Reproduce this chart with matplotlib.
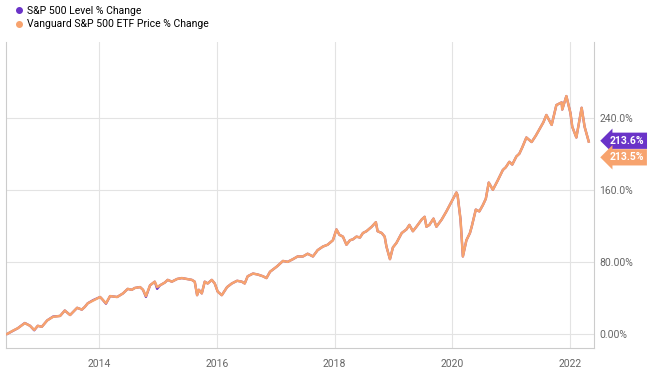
import numpy as np
import matplotlib.pyplot as plt
from matplotlib.lines import Line2D

plt.rcParams['font.family'] = ['Roboto', 'DejaVu Sans']

# decimal years and % change
years = [2012.43, 2012.53, 2012.61, 2012.73, 2012.82, 2012.89, 2012.95, 2013.02,
         2013.11, 2013.21, 2013.33, 2013.41, 2013.50, 2013.62, 2013.70, 2013.75,
         2013.80, 2013.89, 2014.01, 2014.04, 2014.11, 2014.18, 2014.30, 2014.40,
         2014.48, 2014.55, 2014.60, 2014.69, 2014.74, 2014.79, 2014.86, 2014.94,
         2014.98, 2015.03, 2015.11, 2015.16, 2015.23, 2015.32, 2015.40, 2015.49,
         2015.57, 2015.62, 2015.66, 2015.69, 2015.74, 2015.79, 2015.84, 2015.91,
         2015.96, 2016.01, 2016.08, 2016.17, 2016.25, 2016.34, 2016.42, 2016.47,
         2016.52, 2016.61, 2016.69, 2016.78, 2016.84, 2016.90, 2017.02, 2017.12,
         2017.20, 2017.29, 2017.37, 2017.46, 2017.54, 2017.63, 2017.71, 2017.80,
         2017.88, 2017.97, 2018.03, 2018.08, 2018.14, 2018.20, 2018.26, 2018.31,
         2018.37, 2018.43, 2018.48, 2018.54, 2018.63, 2018.70, 2018.73, 2018.80,
         2018.85, 2018.88, 2018.94, 2018.99, 2019.05, 2019.14, 2019.22, 2019.27,
         2019.33, 2019.39, 2019.48, 2019.53, 2019.56, 2019.61, 2019.68, 2019.73,
         2019.82, 2019.90, 2019.99, 2020.07, 2020.09, 2020.14, 2020.18, 2020.24,
         2020.30, 2020.33, 2020.40, 2020.46, 2020.52, 2020.57, 2020.62, 2020.69,
         2020.77, 2020.86, 2020.91, 2020.97, 2021.02, 2021.09, 2021.14, 2021.19,
         2021.26, 2021.35, 2021.42, 2021.48, 2021.55, 2021.60, 2021.69, 2021.77,
         2021.86, 2021.87, 2021.94, 2022.01, 2022.04, 2022.11, 2022.20, 2022.25,
         2022.32]
etf_pct = [0, 3.7, 6.3, 12, 9, 4.4, 9, 8,
           15, 19, 20, 26, 21, 29, 27, 30,
           34, 37, 41, 39, 34, 42, 41, 45,
           50, 49, 51, 52, 49, 42, 54, 58,
           52, 54, 57, 60, 58, 61, 62, 61,
           60, 58, 43, 49, 45, 58, 56, 60,
           56, 47, 43, 52, 56, 59, 58, 56,
           64, 67, 66, 64, 62, 69, 75, 81,
           80, 83, 86, 86, 89, 86, 93, 97,
           99, 104, 116, 110, 108, 99, 104, 105,
           108, 107, 112, 114, 119, 124, 114, 112,
           108, 97, 83, 96, 101, 112, 116, 121,
           114, 119, 127, 130, 119, 121, 128, 119,
           127, 136, 147, 157, 154, 127, 86, 104,
           112, 119, 138, 136, 143, 150, 168, 160,
           170, 182, 185, 191, 188, 197, 200, 207,
           218, 213, 220, 227, 235, 243, 232, 254,
           257, 249, 264, 245, 230, 218, 251, 230,
           213.5]
sp_pct = [0, 3.5, 6.3, 12.2, 9, 4.0, 9, 8,
          15, 19.3, 20, 26, 21, 29, 27, 30,
          34, 37.5, 41, 39, 33.5, 42, 41, 45,
          50, 49, 51, 52, 49, 41, 54, 58,
          50, 54, 57, 60, 58, 61, 62, 61,
          60, 58, 43, 49, 45, 58, 56, 60,
          56, 47, 43, 52, 56, 59, 58, 56,
          64, 67, 66, 64, 62, 69, 75, 81,
          80, 83, 86, 86, 89, 86, 93, 97,
          99, 104, 116, 110, 108, 99, 104, 105,
          108, 107, 112, 114, 119, 124, 114, 112,
          108, 97, 83, 96, 101, 112, 116, 121,
          114, 119, 127, 130, 119, 121, 128, 119,
          127, 136, 147, 157, 154, 127, 86, 104,
          112, 119, 138, 136, 143, 150, 168, 160,
          170, 182, 185, 191, 188, 197, 200, 207,
          218, 213, 220, 227, 235, 243, 232, 254,
          257, 249, 264, 245, 230, 218, 251, 230,
          213.6]

purple = '#6a33c8'
orange = '#f7a36e'

fig = plt.figure(figsize=(6.6, 3.76), dpi=100)
ax = fig.add_axes([6/660, 1 - 348/376, 588/660, 306/376])

ax.plot(years, sp_pct, color=purple, lw=1.6, zorder=3)
ax.plot(years, etf_pct, color=orange, lw=1.8, zorder=4)

ymin, ymax = -15.6, 324
ax.set_xlim(2012.41, 2022.41)
ax.set_ylim(ymin, ymax)
ax.set_xticks([2014, 2016, 2018, 2020, 2022])
ax.set_yticks([0, 80, 160, 240])
ax.set_yticklabels(['0.00%', '80.00%', '160.0%', '240.0%'])
ax.yaxis.tick_right()
ax.tick_params(length=0, labelsize=7.5, colors='#666666', pad=4)
ax.tick_params(axis='x', pad=8)
ax.grid(color='#e3e3e3', lw=0.8)
ax.set_axisbelow(True)
for s in ['left', 'bottom', 'right']:
    ax.spines[s].set_color('#cccccc')
ax.spines['top'].set_visible(False)

# end-value tags
for txt, pos, col in [('213.6%', 214.4, purple), ('213.5%', 196, orange)]:
    ax.annotate(txt, xy=(1.0, (pos - ymin) / (ymax - ymin)), xycoords='axes fraction',
                xytext=(11, 0), textcoords='offset points', va='center', ha='left',
                color='white', fontsize=7.5, fontweight='bold',
                bbox=dict(boxstyle='larrow,pad=0.3', fc=col, ec='none'))

handles = [Line2D([], [], ls='', marker='o', ms=4, color=purple),
           Line2D([], [], ls='', marker='o', ms=4, color=orange)]
fig.legend(handles, ['S&P 500 Level % Change', 'Vanguard S&P 500 ETF Price % Change'],
           loc='upper left', bbox_to_anchor=(0.005, 1.01), frameon=False,
           fontsize=7.5, handletextpad=0.2, labelspacing=0.35, handlelength=1.2)

fig.savefig('out.png', dpi=100)
